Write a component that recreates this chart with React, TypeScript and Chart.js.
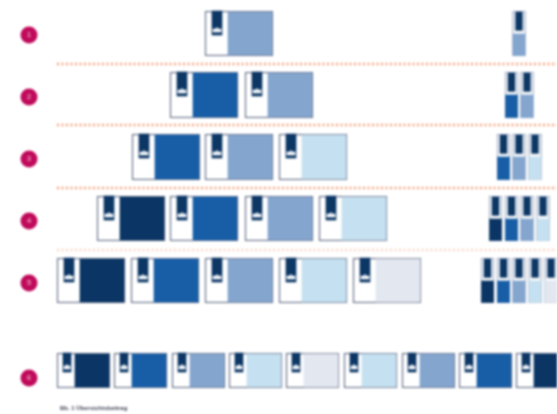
import React, { useEffect, useRef } from "react";
import { Chart, registerables } from "chart.js";

Chart.register(...registerables);

const rowNumbers = ["1", "2", "3", "4", "5", "6"];
const rowMarkerY = [35, 97, 159, 221, 283, 378];
const rowTop = [11, 72, 134, 196, 258, 353];
const rowBottom = [56, 118, 180, 241, 303, 388];
const separatorY = [64, 125, 188, 250];
const separatorColors = ["#f2a07c", "#f2a07c", "#f2a07c", "#f9d3c2"];

const shades = ["#0a3564", "#175ea6", "#83a5ce", "#c5e0f0", "#e2e7f0"];

const largeStarts = [
  [205],
  [170, 245],
  [132, 205, 279],
  [97, 170, 245, 319],
  [57, 131, 205, 279, 353],
];
const largeShades = [[2], [1, 2], [1, 2, 3], [0, 1, 2, 3], [0, 1, 2, 3, 4]];

const wideRowStarts = [57, 114, 172, 229, 286, 344, 402, 459, 516];
const wideRowShades = [0, 1, 2, 3, 4, 3, 2, 1, 0];

const smallStarts = [
  [512.5],
  [505, 520.5],
  [497, 512.5, 528.5],
  [489, 505, 520.5, 536.5],
  [481, 497, 512.5, 528.5, 544.5],
];
const smallShades = largeShades;

const caption = "Bb. 1 Übersichtsbeitrag";

const bar = (data: any[], thickness: number, color: string, border?: string, borderWidth = 0) => ({
  type: "bar" as const,
  data,
  grouped: false,
  barThickness: thickness,
  backgroundColor: color,
  borderColor: border ?? color,
  borderWidth,
  borderSkipped: false,
});

function buildDatasets() {
  const layers: any[] = [];

  const addCards = (
    starts: number[],
    shadeIds: number[],
    row: number,
    width: number,
    white: number,
    tabLeft: number,
    tabWidth: number,
    tabHeight: number
  ) => {
    const top = rowTop[row];
    const bottom = rowBottom[row];
    layers.push(
      bar(starts.map((s) => ({ x: s + width / 2, y: [top, bottom] })), width, "#ffffff", "#727b92", 1.5)
    );
    shades.forEach((color, shade) => {
      const cells = starts.filter((_, i) => shadeIds[i] === shade);
      if (cells.length)
        layers.push(
          bar(
            cells.map((s) => ({ x: s + (white + width - 1) / 2, y: [top + 1, bottom - 1] })),
            width - 1 - white,
            color
          )
        );
    });
    layers.push(
      bar(starts.map((s) => ({ x: s + tabLeft + tabWidth / 2, y: [top, top + tabHeight] })), tabWidth, "#0c3664")
    );
    layers.push(
      bar(
        starts.map((s) => ({ x: s + tabLeft + tabWidth / 2, y: [top + tabHeight - 6, top + tabHeight - 3] })),
        tabWidth - 2,
        "#f2f6fa"
      )
    );
    layers.push({
      type: "scatter" as const,
      data: starts.map((s) => ({ x: s + tabLeft + tabWidth / 2, y: top + tabHeight - 6.5 })),
      pointStyle: "triangle",
      pointRadius: 1.8,
      backgroundColor: "#f2f6fa",
      borderWidth: 0,
    });
  };

  largeStarts.forEach((starts, row) => addCards(starts, largeShades[row], row, 68, 23, 7, 10, 24));
  addCards(wideRowStarts, wideRowShades, 5, 53, 18, 6, 8, 19);

  smallStarts.forEach((starts, row) => {
    const top = rowTop[row];
    const bottom = rowBottom[row];
    layers.push(
      bar(starts.map((s) => ({ x: s + 6.5, y: [top, bottom] })), 13, "#dfe5ee", "#98a5bf", 1)
    );
    layers.push(bar(starts.map((s) => ({ x: s + 6.5, y: [top + 1, top + 20] })), 6.5, "#0c3664"));
    layers.push(bar(starts.map((s) => ({ x: s + 6.5, y: [top + 20, top + 23] })), 10, "#f8fafc"));
    shades.forEach((color, shade) => {
      const cells = starts.filter((_, i) => smallShades[row][i] === shade);
      if (cells.length)
        layers.push(bar(cells.map((s) => ({ x: s + 6.5, y: [top + 23, bottom - 0.5] })), 12, color));
    });
  });

  separatorY.forEach((y, i) => {
    layers.push({
      type: "line" as const,
      data: [
        { x: 57, y },
        { x: 557, y },
      ],
      borderColor: separatorColors[i],
      borderWidth: 2.5,
      borderDash: [2, 2.5],
      pointRadius: 0,
    });
  });

  layers.push({
    type: "scatter" as const,
    data: rowMarkerY.map((y) => ({ x: 29, y })),
    pointStyle: "circle",
    pointRadius: 8.5,
    backgroundColor: "#c00a5b",
    borderWidth: 0,
  });

  return layers.map((d, i) => ({ ...d, order: layers.length - i }));
}

const textPlugin = {
  id: "diagramText",
  afterDraw(chart: any) {
    const { ctx, scales } = chart;
    ctx.save();
    ctx.textAlign = "center";
    ctx.textBaseline = "middle";
    ctx.fillStyle = "#e88fb4";
    ctx.font = "bold 8px 'Liberation Sans'";
    rowNumbers.forEach((n, i) => {
      ctx.fillText(n, scales.x.getPixelForValue(29), scales.y.getPixelForValue(rowMarkerY[i]));
    });
    ctx.textAlign = "left";
    ctx.fillStyle = "#3f4254";
    ctx.font = "bold 6px 'Liberation Sans'";
    ctx.fillText(caption, scales.x.getPixelForValue(60), scales.y.getPixelForValue(408));
    ctx.restore();
  },
};

export default function App() {
  const ref = useRef<HTMLCanvasElement>(null);

  useEffect(() => {
    if (!ref.current) return;
    const chart = new Chart(ref.current, {
      data: { datasets: buildDatasets() as any },
      options: {
        animation: false,
        responsive: false,
        devicePixelRatio: 1,
        layout: { padding: 0, autoPadding: false },
        plugins: { legend: { display: false }, tooltip: { enabled: false }, title: { display: false } },
        scales: {
          x: { type: "linear", min: 0, max: 557, display: false, offset: false },
          y: { type: "linear", min: 0, max: 414, reverse: true, display: false },
        },
      },
      plugins: [textPlugin],
    } as any);
    return () => chart.destroy();
  }, []);

  return (
    <div style={{ position: "absolute", left: 0, top: 0, width: 557, height: 414, overflow: "hidden", background: "#fff" }}>
      <canvas ref={ref} width={557} height={414} style={{ display: "block", filter: "blur(0.8px)" }} />
    </div>
  );
}
